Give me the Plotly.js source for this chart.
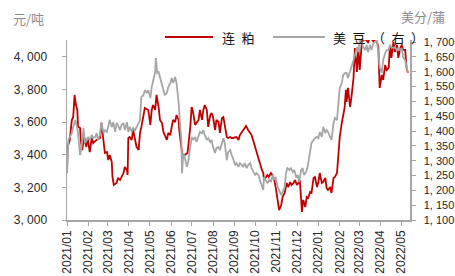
<!DOCTYPE html>
<html>
<head>
<meta charset="utf-8">
<script src="https://cdn.plot.ly/plotly-3.0.1.min.js"></script>
<style>html,body{margin:0;padding:0;background:#fff;}#chart{width:455px;height:276px;}</style>
</head>
<body>
<div id="chart"></div>
<script>
// 连粕 (元/吨, left axis)
const redDates = [
'2021-01-01','2021-01-02','2021-01-05','2021-01-08','2021-01-10','2021-01-12','2021-01-14','2021-01-16','2021-01-17','2021-01-20','2021-01-21','2021-01-23','2021-01-26','2021-01-29','2021-01-31',
'2021-02-03','2021-02-06','2021-02-08','2021-02-13','2021-02-18','2021-02-20','2021-02-23','2021-02-25','2021-02-28',
'2021-03-02','2021-03-04','2021-03-07','2021-03-08','2021-03-10','2021-03-14','2021-03-16','2021-03-19','2021-03-21','2021-03-24','2021-03-26','2021-03-29','2021-03-30','2021-03-31',
'2021-04-02','2021-04-05','2021-04-07','2021-04-10','2021-04-12','2021-04-15','2021-04-17','2021-04-19','2021-04-22','2021-04-24','2021-04-29',
'2021-05-02','2021-05-04','2021-05-06','2021-05-09','2021-05-11','2021-05-14','2021-05-16','2021-05-19','2021-05-21','2021-05-23','2021-05-26','2021-05-28','2021-05-31',
'2021-06-02','2021-06-04','2021-06-07','2021-06-09','2021-06-12','2021-06-13','2021-06-17','2021-06-19','2021-06-21','2021-06-25','2021-06-29',
'2021-07-01','2021-07-03','2021-07-06','2021-07-08','2021-07-11','2021-07-13','2021-07-16','2021-07-18','2021-07-20','2021-07-23','2021-07-25','2021-07-28','2021-07-30',
'2021-08-01','2021-08-04','2021-08-06','2021-08-09','2021-08-11','2021-08-14','2021-08-16','2021-08-18','2021-08-21','2021-08-23','2021-08-26','2021-08-28','2021-08-30',
'2021-09-04','2021-09-07','2021-09-09','2021-09-14','2021-09-18','2021-09-21','2021-09-24','2021-09-26','2021-09-29',
'2021-10-01','2021-10-03','2021-10-06','2021-10-08','2021-10-11','2021-10-13','2021-10-14','2021-10-17','2021-10-19','2021-10-21','2021-10-24','2021-10-26','2021-10-29','2021-10-31',
'2021-11-02','2021-11-05','2021-11-08','2021-11-10','2021-11-13','2021-11-16','2021-11-18','2021-11-21','2021-11-23','2021-11-26','2021-11-28',
'2021-12-01','2021-12-03','2021-12-05','2021-12-07','2021-12-08','2021-12-10','2021-12-13','2021-12-15','2021-12-17','2021-12-20','2021-12-22','2021-12-25','2021-12-27','2021-12-30',
'2022-01-01','2022-01-03','2022-01-06','2022-01-08','2022-01-11','2022-01-13','2022-01-15','2022-01-18','2022-01-20','2022-01-23','2022-01-25','2022-01-28','2022-01-30',
'2022-02-01','2022-02-04','2022-02-06','2022-02-08','2022-02-10','2022-02-11','2022-02-13','2022-02-16','2022-02-18','2022-02-21','2022-02-23','2022-02-26','2022-02-28',
'2022-03-02','2022-03-05','2022-03-07','2022-03-10','2022-03-14','2022-03-17','2022-03-22','2022-03-26','2022-03-29','2022-03-31',
'2022-04-03','2022-04-05','2022-04-08','2022-04-10','2022-04-13','2022-04-15','2022-04-17','2022-04-20','2022-04-22','2022-04-25','2022-04-27','2022-04-30',
'2022-05-02','2022-05-04','2022-05-07','2022-05-09','2022-05-11'
];
const redValues = [
3290,3450,3491,3613,3632,3767,3705,3675,3572,3564,3491,3429,3509,3448,3503,
3417,3503,3472,3491,3503,3595,3491,3411,3417,
3368,3399,3356,3264,3215,3227,3258,3245,3264,3288,3325,3307,3276,3503,
3509,3491,3552,3491,3448,3429,3534,3571,3632,3687,3675,
3583,3675,3705,3675,3767,3693,3614,3595,3540,3521,3491,3534,3521,
3571,3614,3601,3644,3614,3552,3411,3387,3399,3411,3571,
3693,3663,3583,3595,3614,3675,3614,3675,3705,3675,3571,3644,3656,
3632,3552,3614,3601,3534,3626,3632,3571,3509,3503,3509,3503,3503,
3509,3491,3521,3552,3577,3552,3534,3521,3479,
3448,3411,3368,3350,3307,3288,3245,3264,3276,3264,3288,3276,3245,3202,
3135,3061,3092,3141,3166,3227,3202,3233,3215,3227,3245,
3215,3227,3245,3123,3049,3123,3080,3141,3135,3172,3166,3258,3264,3202,
3233,3288,3227,3233,3258,3196,3184,3202,3166,3258,3264,3288,3411,
3509,3595,3632,3687,3798,3724,3810,3693,3755,3871,4055,3908,4061,
3920,4086,4104,4110,4090,4120,4095,4110,4060,3810,
3890,3859,3951,3920,3932,4074,3994,4092,4031,4074,3994,4055,
4074,4043,4043,3932,3902
];

// 美豆 (美分/蒲, right axis)
const soyDates = [
'2021-01-01','2021-01-02','2021-01-03','2021-01-05','2021-01-08','2021-01-10','2021-01-13','2021-01-15','2021-01-17','2021-01-20','2021-01-22','2021-01-25','2021-01-27','2021-01-30',
'2021-02-01','2021-02-03','2021-02-06','2021-02-08','2021-02-11','2021-02-13','2021-02-15','2021-02-18','2021-02-20','2021-02-23','2021-02-25','2021-02-28',
'2021-03-02','2021-03-04','2021-03-07','2021-03-09','2021-03-12','2021-03-14','2021-03-16','2021-03-19','2021-03-21','2021-03-24','2021-03-26','2021-03-29','2021-03-31',
'2021-04-02','2021-04-05','2021-04-07','2021-04-10','2021-04-12','2021-04-15','2021-04-17','2021-04-19','2021-04-22','2021-04-24','2021-04-27','2021-04-29',
'2021-05-02','2021-05-04','2021-05-06','2021-05-09','2021-05-10','2021-05-12','2021-05-14','2021-05-16','2021-05-19','2021-05-21','2021-05-23','2021-05-26','2021-05-28','2021-05-31',
'2021-06-02','2021-06-04','2021-06-07','2021-06-09','2021-06-12','2021-06-14','2021-06-16','2021-06-17','2021-06-19','2021-06-21','2021-06-24','2021-06-26','2021-06-29',
'2021-07-01','2021-07-03','2021-07-06','2021-07-08','2021-07-11','2021-07-13','2021-07-16','2021-07-18','2021-07-20','2021-07-23','2021-07-25','2021-07-28','2021-07-30',
'2021-08-01','2021-08-04','2021-08-06','2021-08-09','2021-08-11','2021-08-14','2021-08-16','2021-08-18','2021-08-21','2021-08-23','2021-08-26','2021-08-28','2021-08-30',
'2021-09-02','2021-09-04','2021-09-07','2021-09-09','2021-09-12','2021-09-14','2021-09-16','2021-09-19','2021-09-21','2021-09-24','2021-09-26','2021-09-29',
'2021-10-01','2021-10-03','2021-10-06','2021-10-08','2021-10-11','2021-10-13','2021-10-14','2021-10-17','2021-10-19','2021-10-22','2021-10-24','2021-10-27','2021-10-29','2021-10-31',
'2021-11-03','2021-11-05','2021-11-08','2021-11-10','2021-11-13','2021-11-15','2021-11-17','2021-11-20','2021-11-22','2021-11-25','2021-11-27','2021-11-30',
'2021-12-02','2021-12-04','2021-12-07','2021-12-09','2021-12-11','2021-12-14','2021-12-16','2021-12-18','2021-12-20','2021-12-22','2021-12-25','2021-12-27','2021-12-30',
'2022-01-01','2022-01-03','2022-01-06','2022-01-08','2022-01-11','2022-01-13','2022-01-15','2022-01-18','2022-01-20','2022-01-23','2022-01-25','2022-01-28','2022-01-30',
'2022-02-01','2022-02-04','2022-02-06','2022-02-09','2022-02-11','2022-02-13','2022-02-16','2022-02-18','2022-02-21','2022-02-23','2022-02-26','2022-02-28',
'2022-03-02','2022-03-05','2022-03-07','2022-03-10','2022-03-12','2022-03-14','2022-03-17','2022-03-19','2022-03-22','2022-03-24','2022-03-27','2022-03-29','2022-03-31',
'2022-04-03','2022-04-05','2022-04-08','2022-04-10','2022-04-13','2022-04-15','2022-04-17','2022-04-20','2022-04-22','2022-04-25','2022-04-27','2022-04-30',
'2022-05-02','2022-05-04','2022-05-07','2022-05-09','2022-05-11'
];
const soyValues = [
1258,1312,1370,1380,1393,1414,1437,1420,1393,1319,1346,1410,1360,1370,
1380,1370,1387,1376,1380,1393,1370,1387,1430,1393,1403,1397,
1420,1437,1414,1430,1397,1427,1420,1403,1420,1427,1403,1430,1397,
1414,1397,1410,1403,1414,1427,1437,1515,1521,1538,1528,1538,
1511,1548,1572,1599,1646,1596,1599,1582,1548,1538,1521,1528,1548,1562,
1579,1562,1582,1562,1498,1427,1370,1258,1326,1312,1279,1296,1360,
1380,1370,1380,1363,1387,1397,1393,1403,1387,1370,1376,1363,1370,
1346,1326,1343,1346,1336,1360,1376,1360,1302,1329,1336,1319,1309,
1285,1292,1279,1292,1285,1279,1292,1275,1285,1292,1275,1262,
1252,1258,1252,1235,1218,1201,1245,1235,1225,1235,1228,1252,1235,1245,
1211,1201,1184,1194,1211,1258,1275,1269,1275,1262,1269,1242,
1252,1228,1269,1275,1252,1262,1275,1302,1326,1360,1370,1376,1380,
1376,1397,1380,1414,1393,1403,1397,1380,1370,1427,1444,1437,1505,
1545,1562,1589,1596,1596,1579,1599,1612,1639,1656,1683,1666,
1707,1700,1683,1673,1690,1666,1690,1673,1697,1700,1707,1663,1616,
1596,1639,1663,1673,1673,1690,1683,1680,1683,1673,1680,1673,
1680,1649,1639,1616,1596
];

const seriesNames = ['连粕', '美豆（右）'];
const legendLabels = ['连\u2002粕', '美\u2002豆\u2002（\u2002右\u2002）'];
const leftTickVals = [3000, 3200, 3400, 3600, 3800, 4000];
const leftTickText = ['3, 000', '3, 200', '3, 400', '3, 600', '3, 800', '4, 000'];
const rightTickVals = [1100, 1150, 1200, 1250, 1300, 1350, 1400, 1450, 1500, 1550, 1600, 1650, 1700];
const rightTickText = ['1, 100', '1, 150', '1, 200', '1, 250', '1, 300', '1, 350', '1, 400', '1, 450', '1, 500', '1, 550', '1, 600', '1, 650', '1, 700'];
const leftUnit = '元/吨';
const rightUnit = '美分/蒲';

const redColor = '#c00000';
const greyColor = '#a6a6a6';
const axisGrey = '#a6a6a6';
const tickFont = {family: 'Arial, "Liberation Sans", sans-serif', size: 12, color: '#262626'};
const rightTickFont = {family: 'Arial, "Liberation Sans", sans-serif', size: 11, color: '#262626'};
const cjkFont = '"Noto Sans CJK SC", sans-serif';

// plot area in pixels: x 67..410, y 40..220
const px = v => (v - 67) / 343;
const py = v => 1 + (40 - v) / 180;

const traces = [
  {x: redDates, y: redValues, name: seriesNames[0], type: 'scatter', mode: 'lines',
   line: {color: redColor, width: 1.8}, yaxis: 'y'},
  {x: soyDates, y: soyValues, name: seriesNames[1], type: 'scatter', mode: 'lines',
   line: {color: greyColor, width: 1.8}, yaxis: 'y2'}
];

const layout = {
  width: 455, height: 276,
  margin: {l: 67, r: 45, t: 40, b: 56, pad: 0},
  paper_bgcolor: '#ffffff', plot_bgcolor: '#ffffff',
  showlegend: false,
  xaxis: {type: 'date', range: ['2021-01-01', '2022-05-14'], tick0: '2021-01-01', dtick: 'M1',
          tickformat: '%Y/%m', tickangle: -90, ticks: 'outside', ticklen: 4, tickcolor: axisGrey,
          showline: true, linecolor: axisGrey, linewidth: 1.5, showgrid: false, zeroline: false,
          tickfont: tickFont, fixedrange: true},
  yaxis: {range: [3000, 4104], tickvals: leftTickVals, ticktext: leftTickText,
          ticks: 'outside', ticklen: 4, tickcolor: axisGrey, showline: true, linecolor: axisGrey,
          linewidth: 1.5, showgrid: false, zeroline: false, tickfont: tickFont, ticklabelstandoff: 12},
  yaxis2: {range: [1100, 1707], tickvals: rightTickVals, ticktext: rightTickText, overlaying: 'y',
           side: 'right', ticks: 'outside', ticklen: 4, tickcolor: axisGrey, showline: true,
           linecolor: axisGrey, linewidth: 1.5, showgrid: false, zeroline: false, tickfont: rightTickFont,
           ticklabelstandoff: 6},
  shapes: [
    {type: 'line', xref: 'paper', yref: 'paper', x0: px(165), x1: px(213), y0: py(37), y1: py(37),
     line: {color: redColor, width: 2}},
    {type: 'line', xref: 'paper', yref: 'paper', x0: px(273), x1: px(325), y0: py(37), y1: py(37),
     line: {color: greyColor, width: 2}}
  ],
  annotations: [
    {text: legendLabels[0], xref: 'paper', yref: 'paper', x: px(220), y: py(37), xanchor: 'left', yanchor: 'middle',
     showarrow: false, font: {family: cjkFont, size: 13, color: '#111'}},
    {text: legendLabels[1], xref: 'paper', yref: 'paper', x: px(331), y: py(37), xanchor: 'left', yanchor: 'middle',
     showarrow: false, font: {family: cjkFont, size: 13, color: '#111'}},
    {text: leftUnit, xref: 'paper', yref: 'paper', x: px(11), y: py(18), xanchor: 'left', yanchor: 'middle',
     showarrow: false, font: {family: cjkFont, size: 13, color: '#8c8c8c'}},
    {text: rightUnit, xref: 'paper', yref: 'paper', x: px(399), y: py(16), xanchor: 'left', yanchor: 'middle',
     showarrow: false, font: {family: cjkFont, size: 13, color: '#8c8c8c'}}
  ]
};

Plotly.newPlot('chart', traces, layout, {displayModeBar: false, staticPlot: true});
</script>
</body>
</html>
